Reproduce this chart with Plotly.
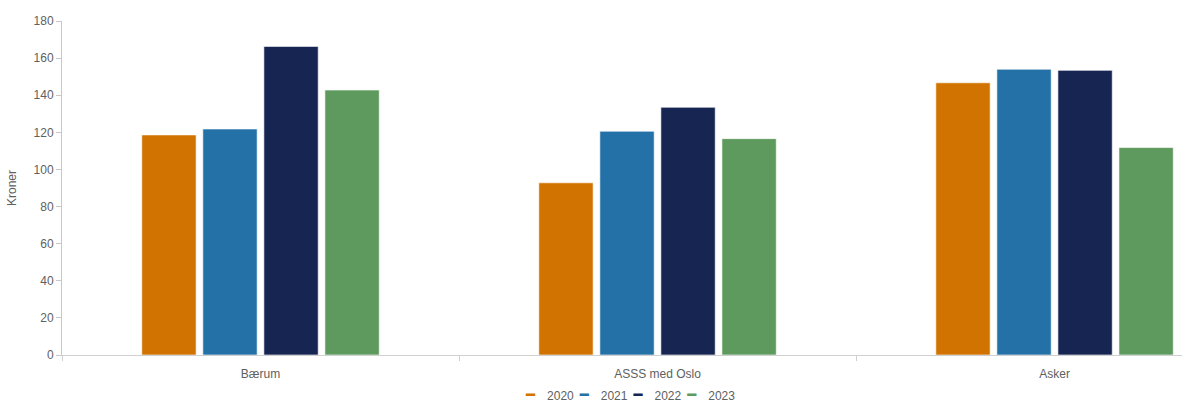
import plotly.graph_objects as go

# Categories and yearly values (kroner)
categories = ["Bærum", "ASSS med Oslo", "Asker"]
years = ["2020", "2021", "2022", "2023"]
v2020 = [118.6, 92.8, 146.7]
v2021 = [121.8, 120.6, 154.0]
v2022 = [166.3, 133.5, 153.4]
v2023 = [142.8, 116.6, 111.8]
values = [v2020, v2021, v2022, v2023]
colors = ["#d17300", "#2471a8", "#172552", "#5e9a5e"]

fig = go.Figure()
for yr, vals, col in zip(years, values, colors):
    fig.add_trace(go.Bar(
        x=categories, y=vals, name=yr,
        marker=dict(color=col, line=dict(color="rgba(255,255,255,0.6)", width=1)),
    ))

axis_font = dict(family="Liberation Sans, Arial, sans-serif", size=12, color="#606060")

# compact line-key legend as a single text row under the axis
EM, EN = "\u2003", "\u2002"
legend_text = EN.join(
    f'<span style="color:{c}; font-family:DejaVu Sans; font-size:15px">━</span>{EM}{y}'
    for y, c in zip(years, colors)
)

fig.update_layout(
    width=1182, height=403,
    margin=dict(l=62, r=0, t=21, b=48, autoexpand=False),
    paper_bgcolor="white", plot_bgcolor="white",
    barmode="group", bargap=0.385, bargroupgap=0.11,
    font=axis_font, showlegend=False,
    annotations=[dict(
        text=legend_text, xref="paper", yref="paper", x=0.507, y=-0.12,
        xanchor="center", yanchor="middle", showarrow=False, font=axis_font,
    )],
    xaxis=dict(
        range=[-0.5, 2.321], showline=True, linecolor="#d0d0d0", linewidth=1,
        ticks="outside", tickson="boundaries", ticklen=5, tickcolor="#d0d0d0",
        showgrid=False, tickfont=axis_font, ticklabelstandoff=8,
    ),
    yaxis=dict(
        range=[0, 180], dtick=20, showline=True, linecolor="#c8c8c8", linewidth=1,
        ticks="outside", ticklen=5, tickcolor="#c8c8c8", showgrid=False,
        zeroline=False, tickfont=axis_font,
        title=dict(text="Kroner", font=axis_font, standoff=14),
    ),
)

fig.write_html("out.html")
